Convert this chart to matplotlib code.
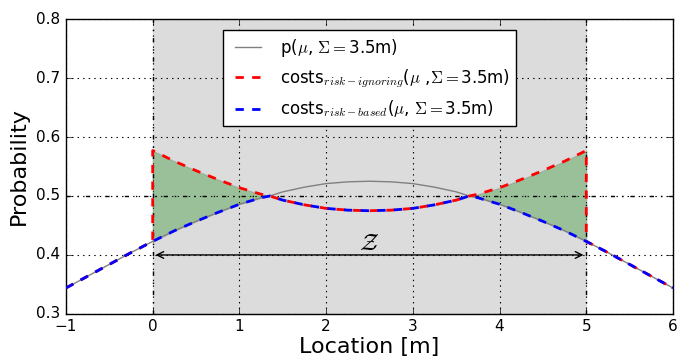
import numpy as np
import matplotlib
matplotlib.use('Agg')
import matplotlib.pyplot as plt

plt.style.use('classic')

# p(mu, Sigma=3.5m)
loc = [-1.0, -0.75, -0.5, -0.25, 0.0, 0.25, 0.5, 0.75, 1.0, 1.25, 1.35, 1.5, 1.75,
       2.0, 2.25, 2.5, 2.75, 3.0, 3.25, 3.5, 3.65, 3.75, 4.0, 4.25, 4.5, 4.75,
       5.0, 5.25, 5.5, 5.75, 6.0]
prob = [0.344, 0.364, 0.384, 0.404, 0.423, 0.441, 0.457, 0.472, 0.486, 0.497, 0.500,
        0.507, 0.515, 0.521, 0.524, 0.525, 0.524, 0.521, 0.515, 0.507, 0.500, 0.497,
        0.486, 0.472, 0.457, 0.441, 0.423, 0.404, 0.384, 0.364, 0.344]

# costs, with the jump at 0 and 5
loc_c = [-1.0, -0.75, -0.5, -0.25, 0.0, 0.0, 0.25, 0.5, 0.75, 1.0, 1.25, 1.35, 1.5,
         1.75, 2.0, 2.25, 2.5, 2.75, 3.0, 3.25, 3.5, 3.65, 3.75, 4.0, 4.25, 4.5,
         4.75, 5.0, 5.0, 5.25, 5.5, 5.75, 6.0]
cost_ign = [0.344, 0.364, 0.384, 0.404, 0.423, 0.577, 0.559, 0.543, 0.528, 0.514,
            0.503, 0.500, 0.493, 0.485, 0.479, 0.476, 0.475, 0.476, 0.479, 0.485,
            0.493, 0.500, 0.503, 0.514, 0.528, 0.543, 0.559, 0.577, 0.423, 0.404,
            0.384, 0.364, 0.344]
cost_based = [0.344, 0.364, 0.384, 0.404, 0.423, 0.423, 0.441, 0.457, 0.472, 0.486,
              0.497, 0.500, 0.493, 0.485, 0.479, 0.476, 0.475, 0.476, 0.479, 0.485,
              0.493, 0.500, 0.497, 0.486, 0.472, 0.457, 0.441, 0.423, 0.423, 0.404,
              0.384, 0.364, 0.344]

fig = plt.figure(figsize=(6.78, 3.6), dpi=100, facecolor='white')
ax = fig.add_axes([0.0973, 0.128, 0.8953, 0.819])

ax.axvspan(0, 5, color='#dcdcdc', zorder=0)

xc = np.array(loc_c)
ri = np.array(cost_ign)
rb = np.array(cost_based)
inside = (xc >= 0) & (xc <= 5)
ax.fill_between(xc, ri, rb, where=inside & (ri >= rb), facecolor='green',
                edgecolor='gray', alpha=0.3, zorder=1)

ax.plot(loc, prob, color='gray', lw=1, label=r'p($\mu$, $\Sigma=$3.5m)', zorder=3)
ax.plot(loc_c, cost_ign, 'r--', lw=2,
        label=r'costs$_{risk-ignoring}$($\mu$ ,$\Sigma=$3.5m)', zorder=4)
ax.plot(loc_c, cost_based, 'b--', lw=2,
        label=r'costs$_{risk-based}$($\mu$, $\Sigma=$3.5m)', zorder=5)

ax.axvline(0, color='black', ls='-.', lw=1, zorder=2)
ax.axvline(5, color='black', ls='-.', lw=1, zorder=2)
ax.axhline(0.5, color='black', ls='-.', lw=1, zorder=2)

ax.annotate('', xy=(0, 0.4), xytext=(5, 0.4),
            arrowprops=dict(arrowstyle='<->', color='black', lw=1), zorder=6)
ax.text(2.5, 0.421, r'$\mathcal{Z}$', fontsize=17, ha='center', va='center')

ax.set_xlim(-1, 6)
ax.set_ylim(0.3, 0.8)
ax.grid(True, color='black', ls=':', lw=0.8)
ax.set_axisbelow(True)
ax.tick_params(labelsize=11)
ax.set_xlabel('Location [m]', fontsize=16, labelpad=2)
ax.set_ylabel('Probability', fontsize=16)

leg = ax.legend(loc='upper center', fontsize=12, bbox_to_anchor=(0.5, 0.99),
                handlelength=2.2, framealpha=1)
leg.get_frame().set_edgecolor('black')

fig.savefig('out.png', dpi=100, facecolor='white')
